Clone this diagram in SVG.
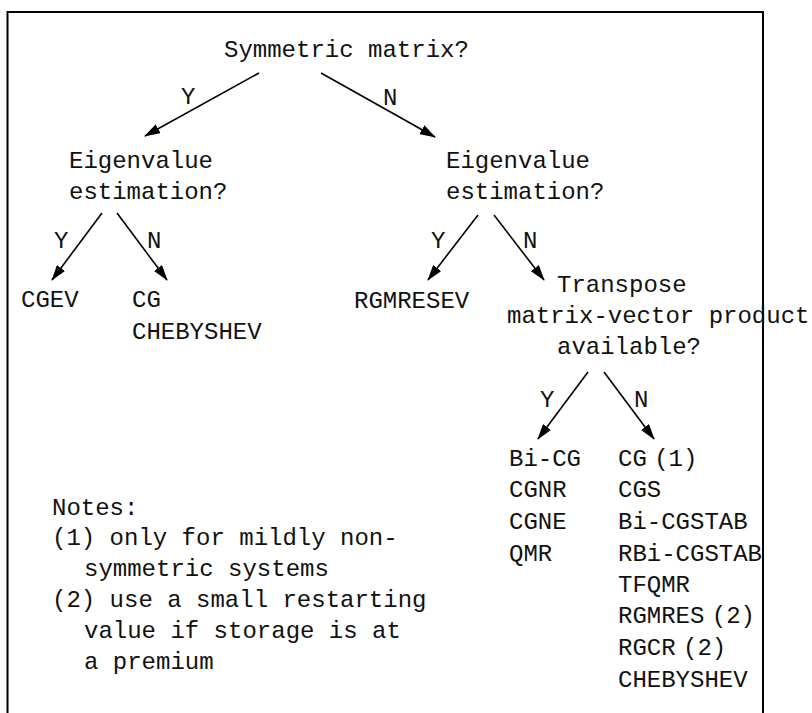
<svg xmlns="http://www.w3.org/2000/svg" width="812" height="713" viewBox="0 0 812 713">
<style>
text{font-family:"Liberation Mono","DejaVu Sans Mono",monospace;font-size:24px;fill:#111}
.ln{stroke:#000;stroke-width:1.6;fill:none;marker-end:url(#ah)}
.frame{stroke:#000;stroke-width:2;fill:none}
</style>
<defs>
<marker id="ah" viewBox="0 0 16 10" refX="15" refY="5" markerWidth="16" markerHeight="10" markerUnits="userSpaceOnUse" orient="auto">
<path d="M0,0 L16,5 L0,10 z" fill="#000"/>
</marker>
</defs>
<path class="frame" d="M7.5,713 V12 H763 V713"/>
<g id="connectors">
<line class="ln" x1="259" y1="73" x2="145" y2="136"/>
<line class="ln" x1="321" y1="73" x2="435" y2="137"/>
<line class="ln" x1="102" y1="213" x2="52" y2="280"/>
<line class="ln" x1="117" y1="213" x2="167" y2="280"/>
<line class="ln" x1="478" y1="215" x2="428" y2="280"/>
<line class="ln" x1="494" y1="215" x2="544" y2="280"/>
<line class="ln" x1="588" y1="372" x2="538" y2="439"/>
<line class="ln" x1="604" y1="372" x2="654" y2="439"/>
<text x="181" y="104">Y</text>
<text x="383" y="105">N</text>
<text x="54" y="248">Y</text>
<text x="147" y="248">N</text>
<text x="431" y="248">Y</text>
<text x="523" y="248">N</text>
<text x="540" y="407">Y</text>
<text x="634" y="407">N</text>
</g>
<g id="n-symmetric"><text x="224" y="57">Symmetric matrix?</text></g>
<g id="n-eig-left"><text x="69" y="168">Eigenvalue</text><text x="69" y="199">estimation?</text></g>
<g id="n-eig-right"><text x="446" y="168">Eigenvalue</text><text x="446" y="199">estimation?</text></g>
<g id="n-cgev"><text x="21" y="307">CGEV</text></g>
<g id="n-cg"><text x="132" y="307">CG</text><text x="132" y="339">CHEBYSHEV</text></g>
<g id="n-rgmresev"><text x="354" y="308">RGMRESEV</text></g>
<g id="n-transpose"><text x="557" y="292">Transpose</text><text x="507" y="323">matrix-vector product</text><text x="557" y="354">available?</text></g>
<g id="n-yes-list"><text x="509" y="466">Bi-CG</text><text x="509" y="497">CGNR</text><text x="509" y="529">CGNE</text><text x="509" y="561">QMR</text></g>
<g id="n-no-list" style="word-spacing:-7px"><text x="618" y="466">CG (1)</text><text x="618" y="497">CGS</text><text x="618" y="529">Bi-CGSTAB</text><text x="618" y="561">RBi-CGSTAB</text><text x="618" y="592">TFQMR</text><text x="618" y="623">RGMRES (2)</text><text x="618" y="655">RGCR (2)</text><text x="618" y="687">CHEBYSHEV</text></g>
<g id="notes"><text x="52" y="515">Notes:</text><text x="52" y="545">(1) only for mildly non-</text><text x="84" y="576">symmetric systems</text><text x="52" y="607">(2) use a small restarting</text><text x="84" y="638">value if storage is at</text><text x="84" y="669">a premium</text></g>
</svg>
